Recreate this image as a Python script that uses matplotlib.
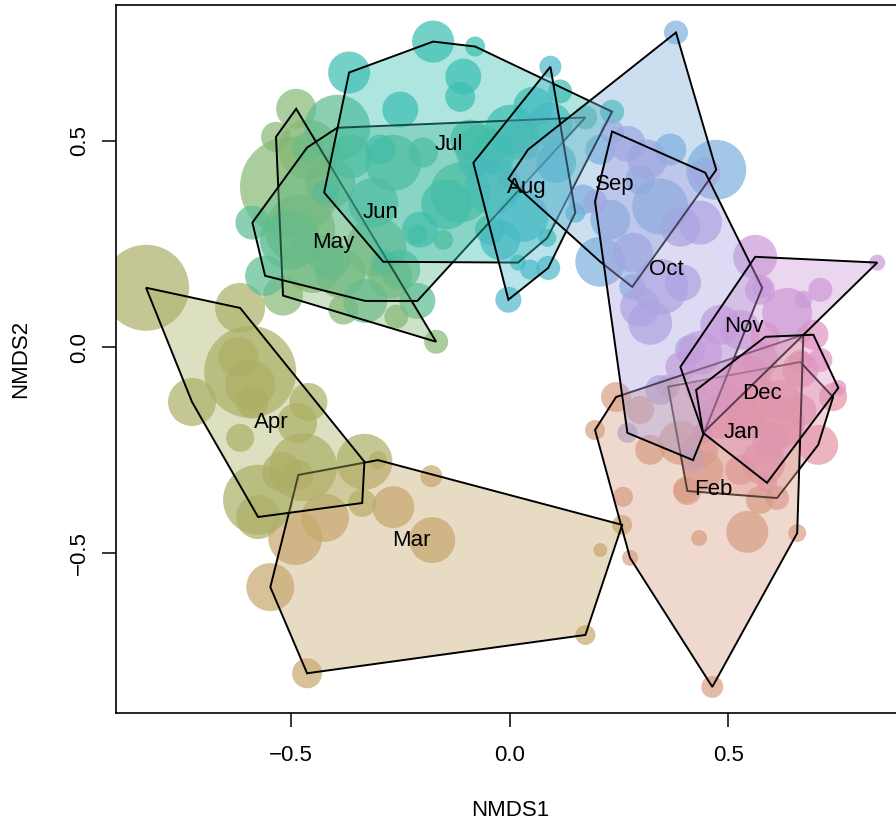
import numpy as np
import matplotlib
matplotlib.use("Agg")
import matplotlib.pyplot as plt
from matplotlib.patches import Polygon
from matplotlib.colors import to_rgba

plt.rcParams['font.family'] = ['Liberation Sans', 'DejaVu Sans']

months = ['Jan', 'Feb', 'Mar', 'Apr', 'May', 'Jun', 'Jul', 'Aug', 'Sep', 'Oct', 'Nov', 'Dec']
colors = ['#E495A5', '#D89F82', '#C7A76C', '#ABB065', '#86B875', '#5CBD92',
          '#39BEB1', '#4CB9CC', '#7DB0DD', '#ACA4E2', '#CD99D8', '#E093C3']

# NMDS scores per month (x, y) and bubble sizes (relative abundance)
jan_x = [0.362, 0.664, 0.739, 0.705, 0.611, 0.406, 0.481, 0.540, 0.618, 0.579, 0.435, 0.527, 0.664, 0.572]
jan_y = [-0.096, -0.036, -0.121, -0.237, -0.366, -0.349, -0.169, -0.177, -0.184, -0.281, -0.250, -0.298, -0.153, -0.116]
jan_s = [12, 12, 14, 20, 12, 14, 22, 20, 25, 22, 18, 15, 16, 18]

feb_x = [0.243, 0.671, 0.657, 0.463, 0.275, 0.195, 0.259, 0.543, 0.433, 0.403, 0.390, 0.442, 0.321, 0.572, 0.298]
feb_y = [-0.121, 0.030, -0.451, -0.824, -0.511, -0.201, -0.363, -0.448, -0.463, -0.346, -0.232, -0.298, -0.249, -0.371, -0.152]
feb_s = [15, 8, 9, 11, 8, 10, 10, 21, 8, 13, 22, 20, 15, 14, 14]

mar_x = [-0.483, -0.301, 0.257, 0.173, -0.463, -0.547, -0.490, -0.422, -0.266, -0.177, -0.179, 0.207]
mar_y = [-0.310, -0.274, -0.431, -0.698, -0.791, -0.582, -0.463, -0.414, -0.388, -0.468, -0.313, -0.492]
mar_s = [15, 9, 10, 10, 15, 24, 27, 24, 21, 23, 11, 7]

apr_x = [-0.831, -0.616, -0.332, -0.337, -0.575, -0.726, -0.593, -0.620, -0.593, -0.588, -0.460, -0.486, -0.616, -0.472, -0.575, -0.520]
apr_y = [0.144, 0.095, -0.278, -0.378, -0.412, -0.133, -0.060, -0.024, -0.091, -0.135, -0.133, -0.184, -0.220, -0.291, -0.370, -0.303]
apr_s = [43, 25, 28, 14, 22, 24, 46, 20, 25, 16, 19, 20, 14, 34, 35, 20]

may_x = [-0.488, -0.534, -0.518, -0.168, -0.502, -0.410, -0.449, -0.387, -0.380, -0.273, -0.305, -0.259, -0.479, -0.460]
may_y = [0.578, 0.510, 0.125, 0.013, 0.389, 0.398, 0.204, 0.180, 0.091, 0.171, 0.243, 0.074, 0.285, 0.479]
may_s = [20, 15, 20, 12, 50, 25, 30, 25, 15, 22, 30, 12, 35, 30]

jun_x = [-0.394, 0.173, -0.211, -0.330, -0.559, -0.588, -0.463, -0.364, -0.266, -0.312, -0.502, -0.198, -0.113, -0.211, -0.152, -0.250, -0.410, -0.067, 0.024]
jun_y = [0.532, 0.557, 0.112, 0.112, 0.173, 0.302, 0.484, 0.462, 0.447, 0.350, 0.260, 0.472, 0.375, 0.273, 0.260, 0.188, 0.212, 0.479, 0.503]
jun_s = [33, 12, 18, 22, 20, 17, 15, 22, 28, 25, 30, 15, 30, 10, 10, 20, 20, 25, 20]

jul_x = [-0.367, -0.175, -0.079, 0.234, 0.086, 0.019, -0.289, -0.424, -0.106, -0.113, 0.115, 0.054, 0.001, -0.090, -0.145, -0.038, -0.250, -0.205, -0.045, -0.296]
jul_y = [0.666, 0.741, 0.729, 0.571, 0.265, 0.205, 0.207, 0.375, 0.656, 0.607, 0.620, 0.583, 0.527, 0.503, 0.346, 0.472, 0.576, 0.285, 0.285, 0.479]
jul_s = [21, 21, 10, 12, 9, 8, 12, 12, 18, 15, 12, 20, 25, 20, 25, 22, 18, 18, 15, 15]

aug_x = [0.093, -0.083, -0.003, 0.088, 0.150, 0.031, -0.038, 0.106, 0.093, -0.022, 0.047]
aug_y = [0.680, 0.447, 0.115, 0.192, 0.326, 0.316, 0.389, 0.447, 0.540, 0.260, 0.188]
aug_s = [11, 15, 13, 12, 10, 25, 28, 20, 22, 20, 10]

sep_x = [0.380, 0.472, 0.280, 0.207, -0.003, 0.042, 0.367, 0.344, 0.168, 0.230, 0.298, 0.207]
sep_y = [0.763, 0.430, 0.146, 0.207, 0.408, 0.479, 0.479, 0.341, 0.358, 0.309, 0.406, 0.479]
sep_s = [12, 30, 13, 25, 10, 10, 16, 28, 15, 20, 15, 15]

oct_x = [0.234, 0.447, 0.577, 0.419, 0.269, 0.195, 0.314, 0.390, 0.435, 0.282, 0.344, 0.298, 0.321, 0.396, 0.412, 0.344, 0.269]
oct_y = [0.523, 0.423, 0.144, -0.274, -0.208, 0.353, 0.455, 0.292, 0.302, 0.229, 0.146, 0.098, 0.059, 0.156, -0.007, -0.104, 0.493]
oct_s = [12, 15, 10, 12, 10, 12, 20, 20, 22, 20, 28, 20, 22, 18, 15, 15, 18]

nov_x = [0.561, 0.840, 0.442, 0.390, 0.634, 0.671, 0.481, 0.435, 0.527, 0.572, 0.504, 0.710, 0.572]
nov_y = [0.219, 0.205, -0.208, -0.048, 0.083, 0.115, 0.054, -0.014, 0.042, -0.031, -0.128, 0.139, 0.139]
nov_s = [22, 8, 10, 15, 25, 9, 20, 22, 20, 18, 15, 12, 15]

dec_x = [0.426, 0.584, 0.694, 0.751, 0.588, 0.442, 0.540, 0.618, 0.664, 0.595, 0.710, 0.527]
dec_y = [-0.104, 0.025, 0.030, -0.099, -0.329, -0.208, -0.079, -0.128, -0.055, -0.225, -0.031, -0.177]
dec_s = [10, 15, 15, 8, 10, 10, 25, 20, 18, 18, 12, 15]

# label positions (group centres)
label_x = [0.531, 0.466, -0.225, -0.545, -0.403, -0.294, -0.138, 0.040, 0.239, 0.358, 0.534, 0.577]
label_y = [-0.208, -0.346, -0.468, -0.184, 0.253, 0.326, 0.491, 0.387, 0.394, 0.188, 0.049, -0.113]

xs = [jan_x, feb_x, mar_x, apr_x, may_x, jun_x, jul_x, aug_x, sep_x, oct_x, nov_x, dec_x]
ys = [jan_y, feb_y, mar_y, apr_y, may_y, jun_y, jul_y, aug_y, sep_y, oct_y, nov_y, dec_y]
ss = [jan_s, feb_s, mar_s, apr_s, may_s, jun_s, jul_s, aug_s, sep_s, oct_s, nov_s, dec_s]


def convex_hull(pts):
    pts = sorted(map(tuple, pts))
    if len(pts) <= 2:
        return np.array(pts)

    def cross(o, a, b):
        return (a[0] - o[0]) * (b[1] - o[1]) - (a[1] - o[1]) * (b[0] - o[0])
    lower = []
    for p in pts:
        while len(lower) >= 2 and cross(lower[-2], lower[-1], p) <= 0:
            lower.pop()
        lower.append(p)
    upper = []
    for p in reversed(pts):
        while len(upper) >= 2 and cross(upper[-2], upper[-1], p) <= 0:
            upper.pop()
        upper.append(p)
    return np.array(lower[:-1] + upper[:-1])


fig = plt.figure(figsize=(8.96, 8.27), dpi=100)
ax = fig.add_axes([0.1298, 0.1375, 0.8791, 0.8561])

# bubbles
for x, y, s, c in zip(xs, ys, ss, colors):
    r = np.array(s, dtype=float)
    ax.scatter(x, y, s=(1.44 * r) ** 2, color=c, alpha=0.7, linewidths=0, zorder=2)

# hulls
for i, (x, y, c) in enumerate(zip(xs, ys, colors)):
    h = convex_hull(np.column_stack([x, y]))
    poly = Polygon(h, closed=True, facecolor=to_rgba(c, 0.4), edgecolor='black',
                   linewidth=1.4, joinstyle='miter', zorder=3 + i * 0.01)
    ax.add_patch(poly)

for m, lx, ly in zip(months, label_x, label_y):
    ax.text(lx, ly, m, ha='center', va='center', fontsize=16, zorder=10)

ax.set_xlim(-0.899, 0.901)
ax.set_ylim(-0.888, 0.829)
ax.set_xticks([-0.5, 0.0, 0.5])
ax.set_yticks([-0.5, 0.0, 0.5])
ax.set_xticklabels(['\u22120.5', '0.0', '0.5'])
ax.set_yticklabels(['\u22120.5', '0.0', '0.5'], rotation=90, va='center')
ax.tick_params(direction='out', length=10, width=1.1, labelsize=16, colors='black')
ax.tick_params(axis='x', pad=13)
ax.tick_params(axis='y', pad=9)
for sp in ax.spines.values():
    sp.set_linewidth(1.2)
    sp.set_color('black')

fig.text(510 / 896, 1 - 810 / 827, 'NMDS1', ha='center', va='center', fontsize=16)
fig.text(21 / 896, 1 - 359 / 827, 'NMDS2', ha='center', va='center', rotation=90, fontsize=16)

fig.savefig('out.png', dpi=100)
